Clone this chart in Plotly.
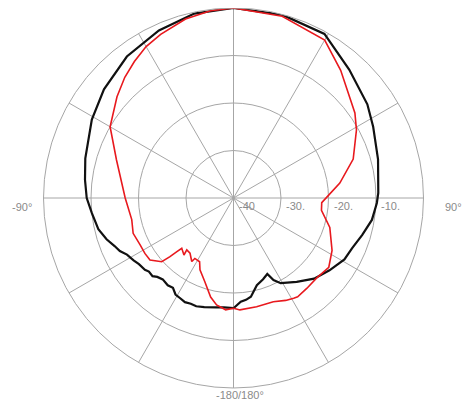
import plotly.graph_objects as go

# radiation pattern, angles in degrees (0 at top, clockwise), levels in dB
black_theta = [-180, -175, -171, -165, -161, -158, -155, -152, -149, -146, -143, -139, -136,
               -134, -131, -129, -125, -122, -118, -115, -112, -108, -103, -96, -90, -83,
               -75, -61, -50, -37, -24, -12, 0, 15, 29, 42, 55, 63, 75, 88, 92, 99, 106, 113, 119,
               127, 135, 143, 151, 154, 156, 160, 165, 170, 173, 176, 180]
black_r = [-16.8, -16.9, -16.7, -16.2, -15.9, -16.0, -15.8, -16.1, -16.3, -17.2, -17.0, -17.3, -16.9,
           -16.3, -16.4, -16.0, -15.7, -15.2, -14.6, -13.6, -13.0, -11.9, -10.8, -10.0, -9.1, -8.5,
           -7.7, -5.9, -4.4, -2.7, -1.4, -0.3, 0.0, -0.1, -0.5, -3.6, -5.6, -7.0, -8.5, -9.5, -9.8, -10.5, -11.8,
           -12.9, -13.3, -14.7, -16.0, -17.9, -19.5, -20.8, -22.5, -21.8, -21.0, -18.9, -18.4, -18.1, -16.8]

red_theta = [-180, -176, -171, -167, -161, -155, -152, -147.4, -146.7, -141.8, -138, -139, -134.2,
             -133.4, -132.7, -131.6, -126.6, -122, -116.7, -109.4, -102, -90, -72, -60, -49,
             -42, -36, -30, -24, -15, -7, 0, 15, 30, 40, 55, 61, 72, 82, 89, 93, 98, 107, 118,
             126, 134, 141, 147, 149, 153, 159, 168, 176.7, 180]
red_r = [-16.8, -16.4, -17.2, -18.6, -21.4, -23.3, -24.8, -24.9, -24.0, -25.2, -25.3, -24.1, -24.8,
         -23.5, -21.8, -19.8, -18.1, -18.0, -18.0, -17.6, -18.1, -17.2, -14.1, -10.0, -7.5,
         -5.8, -4.5, -3.2, -2.3, -1.0, -0.3, 0.0, -0.4, -1.6, -4.9, -8.8, -10.4, -13.5, -17.4, -20.2, -21.4, -21.3,
         -18.8, -16.5, -15.2, -15.7, -15.5, -15.2, -15.4, -15.8, -16.6, -16.6, -16.4, -16.8]

r_ticks = [-40, -30, -20, -10]
r_ticktext = ['-40', '-30.', '-20.', '-10.']
ang_labels = ['-90\u00b0', '90\u00b0', '-180/180\u00b0']

# page has an 8px body margin, so the figure is drawn 8px in from the corner
OFF = 8
W, H = 470 - OFF, 405 - OFF
cx, cy, R = 233.5 - OFF, 198 - OFF, 190  # polar centre and radius in px
rmin, rmax = -40, 0

fig = go.Figure()
fig.add_trace(go.Scatterpolar(theta=black_theta, r=black_r, mode='lines',
                              line=dict(color='#111111', width=2.2), showlegend=False))
fig.add_trace(go.Scatterpolar(theta=red_theta, r=red_r, mode='lines',
                              line=dict(color='#e8191e', width=1.6), showlegend=False))

grid = '#a6a6a6'
lab = dict(family='Liberation Sans, Arial', size=11, color='#8a8a8a')


def px(x, y):
    return (x - OFF) / W, 1 - (y - OFF) / H


ann = []
for v, t in zip(r_ticks, r_ticktext):
    xx, yy = px(233.5 + (v - rmin) / (rmax - rmin) * R + 3, 206)
    ann.append(dict(x=xx, y=yy, xref='paper', yref='paper', text=t,
                    showarrow=False, xanchor='left', yanchor='middle', font=lab))
xx, yy = px(10, 207)
ann.append(dict(x=xx, y=yy, xref='paper', yref='paper', text=ang_labels[0],
                showarrow=False, xanchor='left', yanchor='middle', font=lab))
xx, yy = px(443, 207)
ann.append(dict(x=xx, y=yy, xref='paper', yref='paper', text=ang_labels[1],
                showarrow=False, xanchor='left', yanchor='middle', font=lab))
xx, yy = px(240, 395)
ann.append(dict(x=xx, y=yy, xref='paper', yref='paper', text=ang_labels[2],
                showarrow=False, xanchor='center', yanchor='middle', font=lab))

fig.update_layout(
    width=W, height=H,
    margin=dict(l=0, r=0, t=0, b=0),
    paper_bgcolor='white',
    polar=dict(
        domain=dict(x=[(cx - R) / W, (cx + R) / W], y=[1 - (cy + R) / H, 1 - (cy - R) / H]),
        bgcolor='white',
        radialaxis=dict(range=[rmin, rmax], tickvals=r_ticks, showticklabels=False, ticks='',
                        showline=False, gridcolor=grid, gridwidth=1),
        angularaxis=dict(rotation=90, direction='clockwise', dtick=30, showticklabels=False,
                         ticks='', showline=True, linecolor=grid, linewidth=1,
                         gridcolor=grid, gridwidth=1),
    ),
    annotations=ann,
)

fig.write_html("out.html")
